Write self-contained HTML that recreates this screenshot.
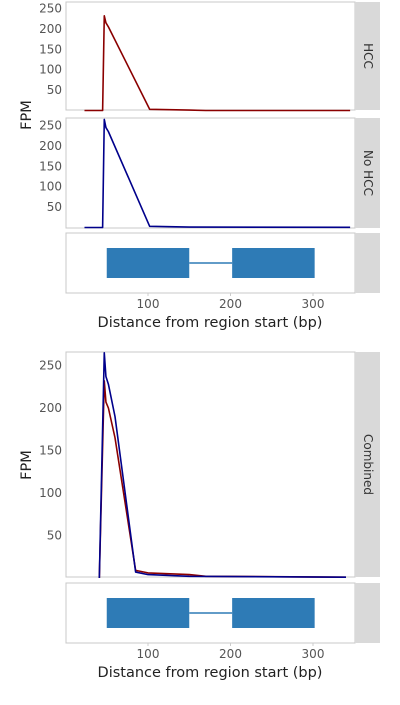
<!DOCTYPE html>
<html><head><meta charset="utf-8"><style>
body{margin:0;background:#fff;font-family:"Liberation Sans","DejaVu Sans",sans-serif}
svg text{font-family:"DejaVu Sans","Liberation Sans",sans-serif}
</style></head><body>
<svg id="c" width="400" height="700" xmlns="http://www.w3.org/2000/svg"></svg>
<script>
const xTicks=[100,200,300];
const yTicks=[50,100,150,200,250];
const hccX=[23,45,47,49,52,102,150,170,345];
const hccY=[0,0,232,215,205,3,1,0,0];
const noX=[23,45,47,49,52,102,150,345];
const noY=[0,0,265,245,235,3,1,0.5];
const combHccX=[41,47,49,52,60,85,100,150,170,340];
const combHccY=[0,232,207,200,165,9,6,4,2,1];
const combNoX=[41,47,49,52,60,85,100,150,340];
const combNoY=[0,265,237,228,190,7,4,2,1];
const exonStart=[50,202];
const exonEnd=[150,302];

const NS="http://www.w3.org/2000/svg";
const svg=document.getElementById('c');
function el(t,a,p){const e=document.createElementNS(NS,t);for(const k in a)e.setAttribute(k,a[k]);(p||svg).appendChild(e);return e;}
const X=v=>65.5+0.825*v;
const L=66,R=355;

function panel(top,bot,zeroY,per50,strip,name){
  const r=el('rect',{x:L,y:top,width:R-L,height:bot-top,fill:'#fff',stroke:'#c8c8c8','stroke-width':1});
  
  
  const s=el('rect',{x:R,y:top,width:25,height:bot-top,fill:'#d9d9d9'});
  
  
  if(strip){
    const cy=(top+bot)/2;
    const t=el('text',{x:367.5,y:cy,'font-size':12,fill:'#333','text-anchor':'middle',transform:`rotate(90 367.5 ${cy})`,'dominant-baseline':'middle'});
    t.textContent=strip;
    
    
  }
  const Y=v=>zeroY-v*per50/50;
  if(zeroY!==null){
    yTicks.forEach(v=>{
      const t=el('text',{x:L-4,y:Y(v)+4,'font-size':12,fill:'#555','text-anchor':'end'});
      t.textContent=v;
      
      
    });
  }
  return Y;
}
function line(xs,ys,Y,color,name){
  const p=el('polyline',{points:xs.map((x,i)=>X(x)+','+Y(ys[i])).join(' '),fill:'none',stroke:color,'stroke-width':1.6,'stroke-linejoin':'round'});
  
  
}
function gene(top,bot,name){
  panel(top,bot,null,0,null,name);
  const cy=(top+bot)/2;
  const ln=el('line',{x1:X(exonEnd[0]),x2:X(exonStart[1]),y1:cy,y2:cy,stroke:'#2e7bb6','stroke-width':1.5});
  
  
  exonStart.forEach((s,i)=>{
    const r=el('rect',{x:X(s),y:cy-15,width:X(exonEnd[i])-X(s),height:30,fill:'#2e7bb6'});
    
    
  });
  xTicks.forEach(v=>{
    el('line',{x1:X(v),x2:X(v),y1:bot,y2:bot+3,stroke:'#ccc'});
    const t=el('text',{x:X(v),y:bot+15,'font-size':12,fill:'#555','text-anchor':'middle'});
    t.textContent=v;
    
    
  });
  const t=el('text',{x:210,y:bot+34,'font-size':14.5,fill:'#222','text-anchor':'middle'});
  t.textContent='Distance from region start (bp)';
  
  
}
function ytitle(cy){
  const t=el('text',{x:31,y:cy,'font-size':14.5,fill:'#222','text-anchor':'middle',transform:`rotate(-90 31 ${cy})`});
  t.textContent='FPM';
  
  
}
const Y1=panel(2,110,110.5,20.4,'HCC','hcc');
line(hccX,hccY,Y1,'#8b0000','hcc-line');
const Y2=panel(118,228,227.5,20.4,'No HCC','no-hcc');
line(noX,noY,Y2,'#00008b','no-hcc-line');
ytitle(115);
gene(233,293,'gene-top');
const Y3=panel(352,577,578,42.5,'Combined','combined');
line(combHccX,combHccY,Y3,'#8b0000','combined-hcc-line');
line(combNoX,combNoY,Y3,'#00008b','combined-no-hcc-line');
ytitle(465);
gene(583,643,'gene-bottom');
</script>
</body></html>
